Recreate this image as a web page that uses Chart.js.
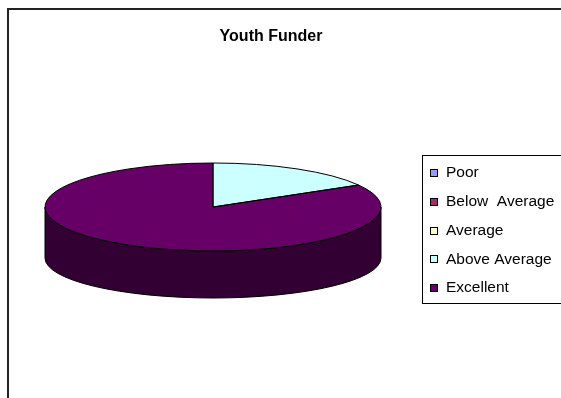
<!DOCTYPE html>
<html>
<head>
<meta charset="utf-8">
<title>Youth Funder</title>
<script src="https://cdn.jsdelivr.net/npm/chart.js@4.4.1/dist/chart.umd.min.js"></script>
<style>
  html, body { margin: 0; padding: 0; background: #fff; overflow: hidden; }
  canvas { display: block; }
</style>
</head>
<body>
<canvas id="funderChart" width="561" height="398"></canvas>
<script>
// rating categories and how many responses fell in each
const labels = ["Poor", "Below  Average", "Average", "Above Average", "Excellent"];
const ratings = [0, 0, 0, 1, 5];
const colors = ["#9999FF", "#993366", "#FFFFCC", "#CCFFFF", "#660066"];

(function () {
  const FONT = "'Liberation Sans', Arial, sans-serif";

  // geometry of the tilted pie
  const CX = 213;
  const CY = 207;
  const RX = 168;
  const RY = 44;
  const DEPTH = 51;
  const RY_BASE = 40;

  function shade(hex, f) {
    const n = parseInt(hex.slice(1), 16);
    const r = Math.round(((n >> 16) & 255) * f);
    const g = Math.round(((n >> 8) & 255) * f);
    const b = Math.round((n & 255) * f);
    return `rgb(${r},${g},${b})`;
  }

  function sliceAngles(arc) {
    return arc.getProps(["startAngle", "endAngle"], true);
  }

  const pie3d = {
    id: "pie3d",
    beforeDraw(chart) {
      const ctx = chart.ctx;
      ctx.save();
      ctx.strokeStyle = "#222";
      ctx.lineWidth = 2;
      ctx.beginPath();
      ctx.moveTo(8, chart.height);
      ctx.lineTo(8, 9);
      ctx.lineTo(chart.width, 9);
      ctx.stroke();
      ctx.restore();
    },
    beforeDatasetsDraw(chart) {
      const ctx = chart.ctx;
      const arcs = chart.getDatasetMeta(0).data;

      // outer wall, only the front half (0..PI) is visible
      ctx.save();
      ctx.strokeStyle = "#000";
      ctx.lineWidth = 1;
      arcs.forEach((arc, i) => {
        const { startAngle, endAngle } = sliceAngles(arc);
        if (endAngle - startAngle <= 0) return;
        for (let k = -1; k <= 1; k += 1) {
          const a0 = Math.max(startAngle + 2 * Math.PI * k, 0);
          const a1 = Math.min(endAngle + 2 * Math.PI * k, Math.PI);
          if (a1 <= a0) continue;
          ctx.beginPath();
          ctx.ellipse(CX, CY, RX, RY, 0, a0, a1);
          ctx.lineTo(CX + RX * Math.cos(a1), CY + DEPTH + RY_BASE * Math.sin(a1));
          ctx.ellipse(CX, CY + DEPTH, RX, RY_BASE, 0, a1, a0, true);
          ctx.closePath();
          ctx.fillStyle = shade(colors[i], 0.5);
          ctx.fill();
          ctx.stroke();
        }
      });
      ctx.restore();

      // squash the flat pie onto the top face
      const { x, y } = arcs[0];
      ctx.save();
      ctx.translate(CX, CY);
      ctx.scale(1, RY / RX);
      ctx.translate(-x, -y);
    },
    afterDatasetsDraw(chart) {
      const ctx = chart.ctx;
      ctx.restore();

      const arcs = chart.getDatasetMeta(0).data;
      ctx.save();
      ctx.strokeStyle = "#000";
      ctx.lineWidth = 1;
      arcs.forEach((arc) => {
        const { startAngle, endAngle } = sliceAngles(arc);
        if (endAngle - startAngle <= 0) return;
        ctx.beginPath();
        ctx.moveTo(CX, CY);
        ctx.ellipse(CX, CY, RX, RY, 0, startAngle, endAngle);
        ctx.closePath();
        ctx.stroke();
      });
      ctx.restore();
    },
    afterDraw(chart) {
      // boxed legend on the right
      const ctx = chart.ctx;
      ctx.save();
      ctx.strokeStyle = "#000";
      ctx.lineWidth = 1;
      ctx.strokeRect(422.5, 155.5, 200, 148);
      ctx.font = `15.5px ${FONT}`;
      ctx.textBaseline = "middle";
      ctx.textAlign = "left";
      labels.forEach((label, i) => {
        const yc = 173 + i * 28.75;
        ctx.fillStyle = colors[i];
        ctx.fillRect(430, Math.round(yc) - 3.5, 7, 7);
        ctx.strokeRect(430.5, Math.round(yc) - 3.5, 7, 7);
        ctx.fillStyle = "#000";
        ctx.fillText(label, 446, yc);
      });
      ctx.restore();
    }
  };

  new Chart(document.getElementById("funderChart"), {
    type: "pie",
    data: {
      labels,
      datasets: [{
        data: ratings,
        backgroundColor: colors,
        borderWidth: 0,
        radius: RX,
        clip: false
      }]
    },
    options: {
      responsive: false,
      devicePixelRatio: 1,
      animation: false,
      events: [],
      layout: { padding: { left: 0, right: 19, top: 0, bottom: 0 } },
      plugins: {
        legend: { display: false },
        tooltip: { enabled: false },
        title: {
          display: true,
          text: "Youth Funder",
          color: "#000",
          font: { family: FONT, size: 16, weight: "bold" },
          padding: { top: 27, bottom: 10 }
        }
      }
    },
    plugins: [pie3d]
  });
})();
</script>
</body>
</html>
